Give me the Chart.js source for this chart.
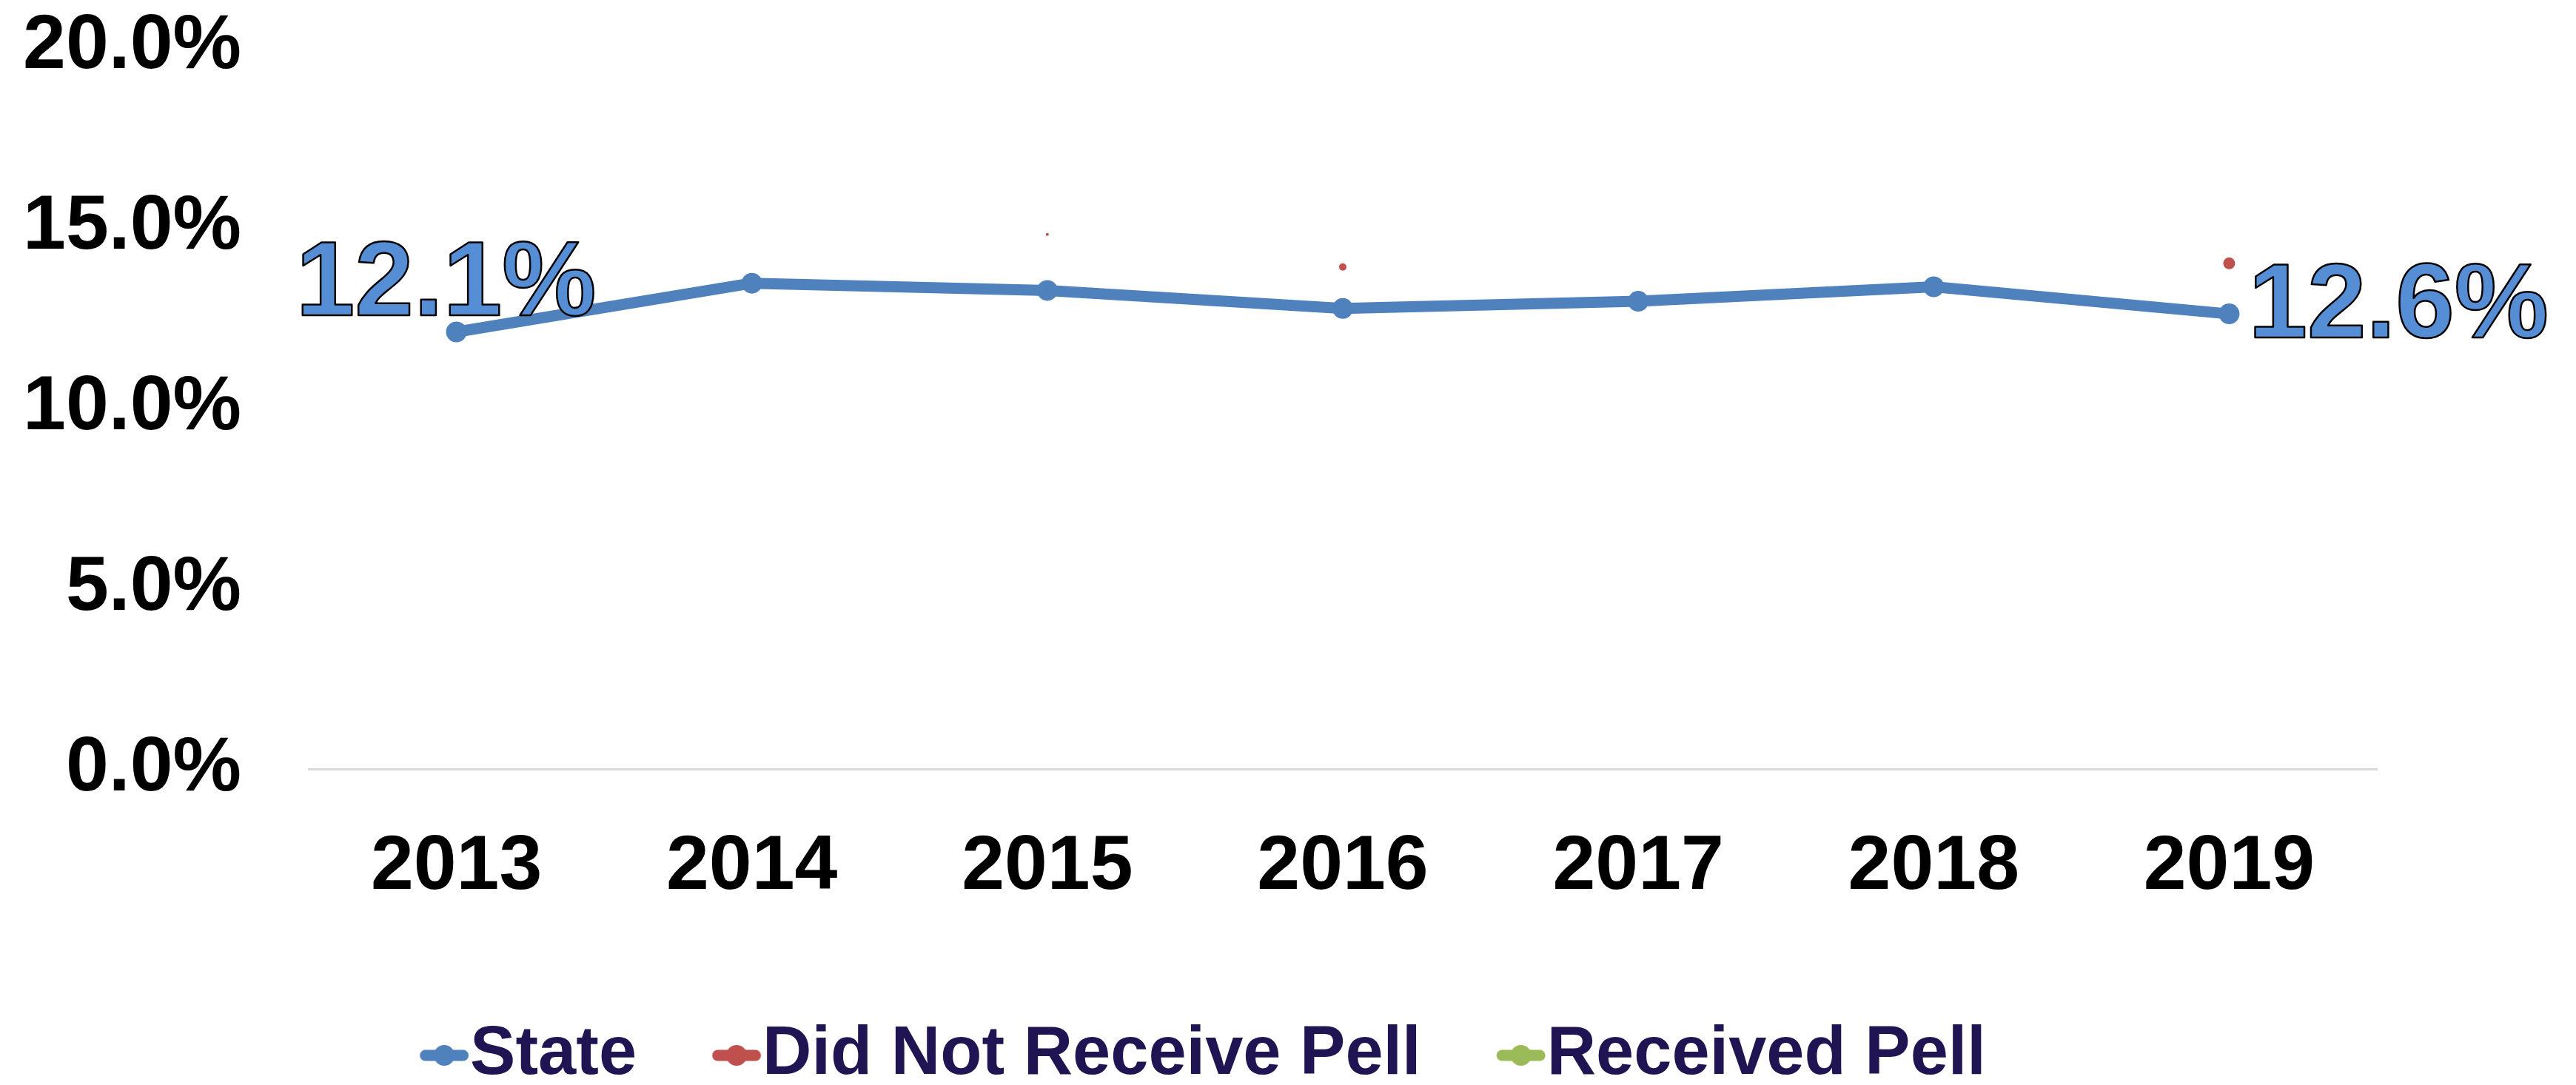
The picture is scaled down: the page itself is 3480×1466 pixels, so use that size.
<!DOCTYPE html>
<html>
<head>
<meta charset="utf-8">
<script src="https://cdn.jsdelivr.net/npm/chart.js@4.4.1/dist/chart.umd.min.js"></script>
<style>
  html, body { margin: 0; padding: 0; background: #fff; }
  canvas { display: block; }
</style>
</head>
<body>
<canvas id="pellChart" width="3480" height="1466"></canvas>
<script>
// values
const years = ["2013", "2014", "2015", "2016", "2017", "2018", "2019"];
const stateRate = [12.1, 13.45, 13.25, 12.75, 12.95, 13.35, 12.6];
// only small fragments of this series show in the picture
const noPellRate = [null, null, 14.8, 13.9, null, null, 14.0];
const noPellRadius = [0, 0, 2, 5, 0, 0, 8];
const pellRate = [null, null, null, null, null, null, null];
const yTicks = [0, 5, 10, 15, 20];
const seriesNames = ["State", "Did Not Receive Pell", "Received Pell"];

const BLUE = "#4F81BD";
const RED = "#C0504D";
const GREEN = "#9BBB59";
const FONT = "'Liberation Sans', Arial, sans-serif";

function pct(v) {
  return v.toFixed(1) + "%";
}

// legend marker: short line with a dot, sitting on the right half of the image
function legendIcon(color) {
  const c = document.createElement("canvas");
  c.width = 160;
  c.height = 40;
  const g = c.getContext("2d");
  g.strokeStyle = color;
  g.fillStyle = color;
  g.lineWidth = 15;
  g.lineCap = "round";
  g.beginPath();
  g.moveTo(96, 20);
  g.lineTo(147, 20);
  g.stroke();
  g.beginPath();
  g.arc(121.5, 20, 14, 0, Math.PI * 2);
  g.fill();
  return c;
}
const icons = [legendIcon(BLUE), legendIcon(RED), legendIcon(GREEN)];

const endLabels = {
  id: "endLabels",
  afterDatasetsDraw(chart) {
    const pts = chart.getDatasetMeta(0).data;
    const ctx = chart.ctx;
    const first = pts[0];
    const last = pts[pts.length - 1];

    ctx.save();
    ctx.font = "bold 143px " + FONT;
    ctx.fillStyle = "#558ED5";
    ctx.strokeStyle = "#000";
    ctx.lineWidth = 2.5;
    ctx.lineJoin = "round";
    ctx.textBaseline = "alphabetic";

    ctx.textAlign = "center";
    ctx.fillText(pct(stateRate[0]), first.x - 14, first.y - 23);
    ctx.strokeText(pct(stateRate[0]), first.x - 14, first.y - 23);

    ctx.textAlign = "left";
    ctx.fillText(pct(stateRate[stateRate.length - 1]), last.x + 26, last.y + 32);
    ctx.strokeText(pct(stateRate[stateRate.length - 1]), last.x + 26, last.y + 32);
    ctx.restore();
  }
};

const ctx = document.getElementById("pellChart").getContext("2d");

new Chart(ctx, {
  type: "line",
  data: {
    labels: years,
    datasets: [
      {
        label: seriesNames[0],
        data: stateRate,
        borderColor: BLUE,
        backgroundColor: BLUE,
        borderWidth: 15,
        pointRadius: 14,
        pointBorderWidth: 0,
        tension: 0,
        borderJoinStyle: "round"
      },
      {
        label: seriesNames[1],
        data: noPellRate,
        borderColor: RED,
        backgroundColor: RED,
        showLine: false,
        pointRadius: noPellRadius,
        pointBorderWidth: 0
      },
      {
        label: seriesNames[2],
        data: pellRate,
        borderColor: GREEN,
        backgroundColor: GREEN,
        borderWidth: 15,
        pointRadius: 14
      }
    ]
  },
  options: {
    responsive: false,
    animation: false,
    devicePixelRatio: 1,
    layout: {
      padding: { left: 0, right: 269, top: 63, bottom: -16 }
    },
    plugins: {
      tooltip: { enabled: false },
      legend: {
        position: "bottom",
        labels: {
          usePointStyle: true,
          boxWidth: 61,
          padding: 63,
          color: "#201452",
          font: { family: FONT, size: 92, weight: "bold" },
          generateLabels(chart) {
            const items = Chart.defaults.plugins.legend.labels.generateLabels(chart);
            items.forEach((it, i) => { it.pointStyle = icons[i]; });
            return items;
          }
        }
      }
    },
    scales: {
      x: {
        offset: true,
        grid: { display: false, drawTicks: false },
        border: { display: true, color: "#D9D9D9", width: 3 },
        ticks: {
          color: "#000",
          padding: 71,
          maxRotation: 0,
          font: { family: FONT, size: 104, weight: "bold" }
        },
        afterFit(scale) {
          scale.height = 278;
        }
      },
      y: {
        min: 0,
        max: 20,
        grid: { display: false, drawTicks: false },
        border: { display: false },
        ticks: {
          color: "#000",
          padding: 91,
          callback: v => pct(v),
          font: { family: FONT, size: 104, weight: "bold" }
        },
        afterBuildTicks(scale) {
          scale.ticks = yTicks.map(v => ({ value: v }));
        },
        afterFit(scale) {
          scale.width = 417;
          scale.paddingTop = 0;
          scale.paddingBottom = 0;
        }
      }
    }
  },
  plugins: [endLabels]
});
</script>
</body>
</html>
